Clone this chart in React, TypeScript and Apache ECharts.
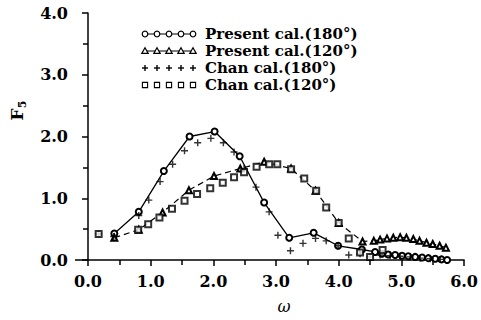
import React, { useEffect, useRef } from "react";
import * as echarts from "echarts";

// ---- data ----
const present180X = [0.42, 0.81, 1.21, 1.62, 2.02, 2.42, 2.81, 3.21, 3.60, 3.99, 4.37, 4.58, 4.69, 4.79, 4.90, 5.01, 5.11, 5.22, 5.33, 5.43, 5.54, 5.64, 5.73];
const present180Y = [0.43, 0.78, 1.44, 2.00, 2.08, 1.68, 0.93, 0.36, 0.44, 0.23, 0.17, 0.13, 0.10, 0.09, 0.08, 0.07, 0.06, 0.05, 0.04, 0.03, 0.02, 0.01, 0.0];

const present120X = [0.42, 0.81, 1.19, 1.61, 2.01, 2.43, 2.81, 3.24, 3.63, 4.00, 4.38, 4.56, 4.66, 4.77, 4.87, 4.98, 5.08, 5.19, 5.29, 5.40, 5.50, 5.61, 5.71];
const present120Y = [0.36, 0.49, 0.77, 1.13, 1.36, 1.48, 1.59, 1.48, 1.12, 0.60, 0.30, 0.31, 0.33, 0.35, 0.36, 0.37, 0.36, 0.34, 0.31, 0.28, 0.26, 0.23, 0.20];

const chan180X = [0.17, 0.41, 0.81, 0.97, 1.15, 1.35, 1.54, 1.75, 1.96, 2.16, 2.33, 2.49, 2.68, 2.89, 3.03, 3.23, 3.43, 3.63, 3.80, 3.99, 4.16, 4.34, 4.50, 4.66, 4.82, 4.98, 5.14, 5.30, 5.46, 5.62];
const chan180Y = [0.42, 0.38, 0.72, 0.97, 1.27, 1.55, 1.77, 1.90, 1.97, 1.90, 1.75, 1.48, 1.18, 0.78, 0.40, 0.15, 0.27, 0.35, 0.31, 0.23, 0.08, 0.10, 0.05, 0.08, 0.07, 0.06, 0.05, 0.03, 0.02, 0.01];

const chan120X = [0.17, 0.80, 0.96, 1.14, 1.34, 1.54, 1.74, 1.95, 2.15, 2.33, 2.49, 2.69, 2.89, 3.02, 3.24, 3.45, 3.64, 3.80, 4.00, 4.16, 4.34, 4.50, 4.70];
const chan120Y = [0.42, 0.49, 0.58, 0.69, 0.83, 0.96, 1.07, 1.16, 1.25, 1.34, 1.42, 1.51, 1.55, 1.55, 1.47, 1.32, 1.12, 0.85, 0.60, 0.35, 0.12, 0.05, 0.16];

const seriesNames = ["Present cal.(180°)", "Present cal.(120°)", "Chan cal.(180°)", "Chan cal.(120°)"];
const xTicks = [0, 1, 2, 3, 4, 5, 6];
const yTicks = [0, 1, 2, 3, 4];

const FONT = '"DejaVu Serif", serif';
const PLUS = "path://M4,0h2v4h4v2h-4v4h-2v-4h-4v-2h4z";

const zip = (xs: number[], ys: number[]) => xs.map((x, i) => [x, ys[i]]);

function legendGraphics() {
  const out: any[] = [];
  const x0 = 145;
  const step = 12;
  const kinds = ["circle", "triangle", "plus", "square"];
  seriesNames.forEach((name, i) => {
    const y = 34 + 17 * i;
    const kind = kinds[i];
    if (i < 2) {
      out.push({
        type: "line",
        shape: { x1: x0, y1: y, x2: x0 + step * 4, y2: y },
        style: { stroke: "#000", lineWidth: 1.2 },
      });
    }
    for (let k = 0; k < 5; k++) {
      const cx = x0 + step * k;
      if (kind === "circle") {
        out.push({ type: "circle", shape: { cx, cy: y, r: 2.8 }, style: { fill: "#fff", stroke: "#000", lineWidth: 1.2 } });
      } else if (kind === "triangle") {
        out.push({
          type: "polygon",
          shape: { points: [[cx, y - 3.2], [cx + 3.2, y + 2.4], [cx - 3.2, y + 2.4]] },
          style: { fill: "#fff", stroke: "#000", lineWidth: 1.2 },
        });
      } else if (kind === "plus") {
        out.push({ type: "line", shape: { x1: cx - 3, y1: y, x2: cx + 3, y2: y }, style: { stroke: "#000", lineWidth: 1.4 } });
        out.push({ type: "line", shape: { x1: cx, y1: y - 3, x2: cx, y2: y + 3 }, style: { stroke: "#000", lineWidth: 1.4 } });
      } else {
        out.push({ type: "rect", shape: { x: cx - 2.6, y: y - 2.6, width: 5.2, height: 5.2 }, style: { fill: "#fff", stroke: "#000", lineWidth: 1.1 } });
      }
    }
    out.push({
      type: "text",
      x: 205,
      y,
      style: { text: name, fill: "#000", font: `bold 15px ${FONT}`, verticalAlign: "middle", align: "left" },
    });
  });
  // short extension of the x axis line to the left of the y axis
  out.push({ type: "line", shape: { x1: 75, y1: 260, x2: 88, y2: 260 }, style: { stroke: "#000", lineWidth: 1.5 } });
  return out;
}

export default function App() {
  const ref = useRef<HTMLDivElement>(null);
  useEffect(() => {
    if (!ref.current) return;
    const chart = echarts.init(ref.current, undefined, { renderer: "svg" });
    const axisCommon = {
      type: "value" as const,
      axisLine: { show: true, lineStyle: { color: "#000", width: 1.5 } },
      axisTick: { show: true, inside: false, length: 6, lineStyle: { color: "#000", width: 1.5 } },
      minorTick: { show: true, splitNumber: 2, length: 5, lineStyle: { color: "#000", width: 1.5 } },
      splitLine: { show: false },
      axisLabel: {
        color: "#000",
        fontFamily: FONT,
        fontWeight: "bold" as const,
        fontSize: 16,
        formatter: (v: number) => v.toFixed(1),
      },
    };
    chart.setOption({
      animation: false,
      backgroundColor: "#fff",
      grid: { left: 88, right: 15, top: 13, bottom: 60, containLabel: false },
      xAxis: {
        ...axisCommon,
        min: xTicks[0],
        max: xTicks[xTicks.length - 1],
        interval: 1,
        axisLabel: { ...axisCommon.axisLabel, margin: 13 },
        name: "ω",
        nameLocation: "middle",
        nameGap: 38,
        nameTextStyle: { color: "#000", fontFamily: FONT, fontSize: 16, fontStyle: "italic", padding: [0, 0, 0, 16] },
      },
      yAxis: {
        ...axisCommon,
        min: yTicks[0],
        max: yTicks[yTicks.length - 1],
        interval: 1,
        axisLabel: { ...axisCommon.axisLabel, margin: 20 },
        name: "{a|F}{b|5}",
        nameLocation: "middle",
        nameRotate: 90,
        nameGap: 60,
        nameTextStyle: {
          padding: [0, 0, 0, 52],
          rich: {
            a: { fontFamily: FONT, fontWeight: "bold", fontSize: 17, color: "#000", lineHeight: 22 },
            b: { fontFamily: FONT, fontWeight: "bold", fontSize: 11, color: "#000", verticalAlign: "bottom", lineHeight: 14 },
          },
        },
      },
      series: [
        {
          name: seriesNames[0],
          type: "line",
          data: zip(present180X, present180Y),
          symbol: "emptyCircle",
          symbolSize: 6,
          lineStyle: { color: "#000", width: 1.3 },
          itemStyle: { color: "#000", borderWidth: 1.2 },
          z: 3,
        },
        {
          name: seriesNames[1],
          type: "line",
          data: zip(present120X, present120Y),
          symbol: "emptyTriangle",
          symbolSize: 6,
          lineStyle: { color: "#000", width: 1.2, type: [6, 4] },
          itemStyle: { color: "#000", borderWidth: 1.2 },
          z: 3,
        },
        {
          name: seriesNames[2],
          type: "scatter",
          data: zip(chan180X, chan180Y),
          symbol: PLUS,
          symbolSize: 7,
          itemStyle: { color: "#000" },
          z: 4,
        },
        {
          name: seriesNames[3],
          type: "scatter",
          data: zip(chan120X, chan120Y),
          symbol: "emptyRect",
          symbolSize: 6,
          itemStyle: { color: "#000", borderWidth: 1.1 },
          z: 4,
        },
      ],
      graphic: legendGraphics(),
    });
    return () => chart.dispose();
  }, []);
  return <div ref={ref} style={{ width: 481, height: 320, position: "absolute", left: 0, top: 0 }} />;
}
